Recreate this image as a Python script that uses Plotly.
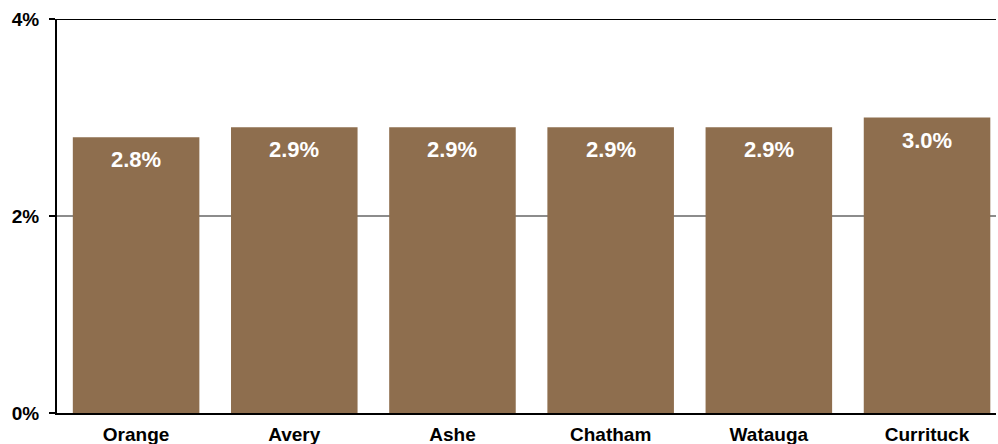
import plotly.graph_objects as go

counties = ["Orange", "Avery", "Ashe", "Chatham", "Watauga", "Currituck"]
values = [2.8, 2.9, 2.9, 2.9, 2.9, 3.0]
labels = ["2.8%", "2.9%", "2.9%", "2.9%", "2.9%", "3.0%"]
y_ticks = [0, 2, 4]
y_tick_text = ["0%", "2%", "4%"]

FONT = "Liberation Sans, Arial"

fig = go.Figure(go.Bar(
    x=counties, y=values,
    marker=dict(color="#8E6E4E", line=dict(width=0)),
    hoverinfo="skip",
))
for c, v, t in zip(counties, values, labels):
    fig.add_annotation(x=c, y=v, text=t, showarrow=False, yanchor="middle",
                       yshift=-22.5,
                       font=dict(family=FONT, size=22, color="white", weight="bold"))

fig.update_layout(
    width=998, height=444,
    margin=dict(l=57, r=2, t=19, b=31, autoexpand=False),
    paper_bgcolor="white", plot_bgcolor="white",
    bargap=0.2,
    showlegend=False,
    font=dict(family=FONT, size=19, color="black"),
)
fig.update_xaxes(
    range=[-0.5, 5.436], showline=True, linecolor="black", linewidth=2,
    ticks="", tickfont=dict(size=19, weight="bold"), showgrid=False,
    automargin=False, ticklabelstandoff=3,
)
fig.update_yaxes(
    range=[0, 4], tickvals=y_ticks, ticktext=y_tick_text,
    showline=True, linecolor="black", linewidth=2,
    ticks="outside", ticklen=6, tickcolor="black", tickwidth=1.5,
    showgrid=True, gridcolor="#8C8C8C", gridwidth=1.5,
    tickfont=dict(size=19, weight="bold"), zeroline=False,
    automargin=False, ticklabelstandoff=6,
)
fig.add_shape(type="line", xref="paper", yref="y", x0=0, x1=1, y0=4, y1=4,
              line=dict(color="black", width=2))
fig.write_html(
    "out.html",
    config={"displayModeBar": False},
    post_script="document.body.style.margin='0';document.body.style.overflow='hidden';",
)
